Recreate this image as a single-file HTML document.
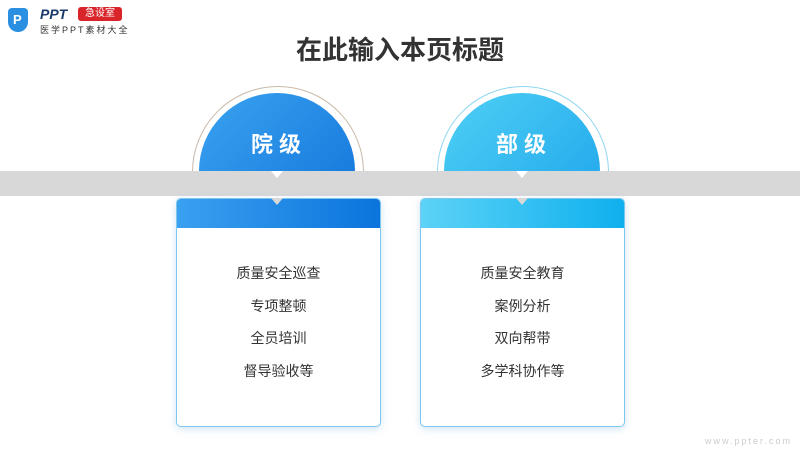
<!DOCTYPE html>
<html><head><meta charset="utf-8"><style>
body{margin:0;width:800px;height:450px;background:#fff;position:relative;overflow:hidden;font-family:"Liberation Sans","Noto Sans CJK SC",sans-serif}
.a{position:absolute}
.title{left:0;width:800px;top:30px;text-align:center;font-size:26px;font-weight:bold;color:#333}
.clip{top:80px;height:91px;overflow:hidden}
.ring{border-radius:50%;border:1px solid #c9b9a8;background:#fff}
.circ{border-radius:50%}
.lbl{color:#fff;font-size:22px;font-weight:bold;letter-spacing:6px;text-align:center}
.bar{left:0;top:171px;width:800px;height:25px;background:#d8d8d8}
.card{top:198px;width:203px;height:227px;border:1px solid #7cc7ee;border-radius:5px;background:#fff;box-shadow:0 2px 8px rgba(100,170,220,.3);overflow:hidden}
.hd{height:29px}
.items{text-align:center;font-size:14px;color:#333;line-height:32.5px}
</style></head><body>
<div class="a" style="left:8px;top:8px;width:20px;height:24px;background:#2a8fe0;border-radius:4px 4px 10px 10px"></div>
<div class="a" style="left:13px;top:12px;color:#fff;font-weight:bold;font-size:13px">P</div>
<div class="a" style="left:40px;top:6px;font-size:14px;font-weight:bold;font-style:italic;color:#1a3a6a">PPT</div>
<div class="a" style="left:78px;top:7px;width:44px;height:14px;background:#d9242a;border-radius:3px;color:#fff;font-size:10px;text-align:center;line-height:14px">急设室</div>
<div class="a" style="left:40px;top:23px;font-size:9px;color:#333;letter-spacing:2px">医学PPT素材大全</div>
<div class="a title">在此输入本页标题</div>

<div class="a clip" style="left:190px;width:180px">
<div class="a ring" style="left:2px;top:6px;width:170px;height:170px"></div>
<div class="a circ" style="left:9px;top:13px;width:156px;height:156px;background:linear-gradient(135deg,#3aa3f0,#0d6fd8)"></div>
<div class="a lbl" style="left:9px;top:47px;width:160px">院级</div>
</div>
<div class="a clip" style="left:435px;width:180px">
<div class="a ring" style="left:2px;top:6px;width:170px;height:170px;border-color:#8fd6f2"></div>
<div class="a circ" style="left:9px;top:13px;width:156px;height:156px;background:linear-gradient(135deg,#4fd0f5,#1aa0ea)"></div>
<div class="a lbl" style="left:9px;top:47px;width:160px">部级</div>
</div>

<div class="a bar"></div>
<div class="a" style="left:271px;top:171px;border-left:6px solid transparent;border-right:6px solid transparent;border-top:7px solid #fff"></div>
<div class="a" style="left:516px;top:171px;border-left:6px solid transparent;border-right:6px solid transparent;border-top:7px solid #fff"></div>

<div class="a card" style="left:176px"><div class="hd" style="background:linear-gradient(90deg,#3aa0f0,#0b74dc)"></div>
<div class="items" style="padding-top:29px">质量安全巡查<br>专项整顿<br>全员培训<br>督导验收等</div></div>
<div class="a card" style="left:420px"><div class="hd" style="background:linear-gradient(90deg,#5cd2f6,#0fb0ee)"></div>
<div class="items" style="padding-top:29px">质量安全教育<br>案例分析<br>双向帮带<br>多学科协作等</div></div>
<div class="a" style="left:271px;top:198px;border-left:6px solid transparent;border-right:6px solid transparent;border-top:7px solid #d8d8d8"></div>
<div class="a" style="left:516px;top:198px;border-left:6px solid transparent;border-right:6px solid transparent;border-top:7px solid #d8d8d8"></div>
<div class="a" style="left:705px;top:436px;font-size:9px;color:#ccc;letter-spacing:2px">www.ppter.com</div>
</body></html>
